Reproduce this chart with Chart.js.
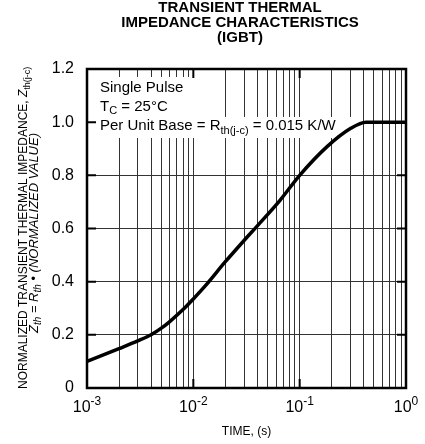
<!DOCTYPE html>
<html>
<head>
<meta charset="utf-8">
<script src="https://cdn.jsdelivr.net/npm/chart.js@4/dist/chart.umd.min.js"></script>
<style>
  body { margin: 0; background: #fff; }
  #wrap { width: 425px; height: 444px; }
</style>
</head>
<body>
<div id="wrap"><canvas id="zthCanvas" width="425" height="444"></canvas></div>
<script>
////////////data////////////
var timeValues = [0.001, 0.002, 0.003, 0.004, 0.005, 0.006, 0.008, 0.01, 0.013, 0.02, 0.03, 0.04, 0.065, 0.1, 0.18, 0.3, 0.42, 0.6, 1];
var zthValues  = [0.10, 0.148, 0.177, 0.20, 0.225, 0.25, 0.295, 0.335, 0.385, 0.475, 0.555, 0.61, 0.705, 0.80, 0.907, 0.976, 1.0, 1.0, 1.0];

var decadeValues = [0.001, 0.01, 0.1, 1];
var decadeExponents = ['-3', '-2', '-1', '0'];
var minorMultipliers = [1, 2, 3, 4, 5, 6, 7, 8, 9];

var titleLines = ['TRANSIENT THERMAL', 'IMPEDANCE CHARACTERISTICS', '(IGBT)'];
var xTitle = 'TIME, (s)';

var FONT = '"Liberation Sans", Arial, Helvetica, sans-serif';

////////////helpers////////////
//draw a list of text runs one after another: {t, size, style, dy}
function drawRuns(ctx, runs, x, y, align) {
	var total = 0;
	runs.forEach(function(r) {
		ctx.font = (r.style || '') + ' ' + r.size + 'px ' + FONT;
		r.w = ctx.measureText(r.t).width;
		total += r.w;
	});
	var cx = x;
	if (align === 'center') cx = x - total / 2;
	if (align === 'right') cx = x - total;
	ctx.textAlign = 'left';
	ctx.textBaseline = 'alphabetic';
	runs.forEach(function(r) {
		ctx.font = (r.style || '') + ' ' + r.size + 'px ' + FONT;
		ctx.fillText(r.t, cx, y + (r.dy || 0));
		cx += r.w;
	});
	return total;
}

////////////plugin: note box, frame, inner ticks, axis texts////////////
var decorPlugin = {
	id: 'decor',
	beforeDatasetsDraw: function(chart) {
		var ctx = chart.ctx, a = chart.chartArea;
		ctx.save();
		//white boxes behind the note lines
		ctx.fillStyle = '#fff';
		ctx.fillRect(a.left + 1, 77, 109, 41);
		ctx.fillRect(a.left + 1, 117, 263, 21);
		ctx.fillStyle = '#000';
		drawRuns(ctx, [{t: 'Single Pulse', size: 15}], 100, 92, 'left');
		drawRuns(ctx, [{t: 'T', size: 15}, {t: 'C', size: 11, dy: 3}, {t: ' = 25°C', size: 15}], 100, 111, 'left');
		drawRuns(ctx, [{t: 'Per Unit Base = R', size: 15}, {t: 'th(j-c)', size: 11, dy: 4},
			{t: ' = 0.015 K/W', size: 15}], 100, 130, 'left');
		ctx.restore();
	},
	afterDraw: function(chart) {
		var ctx = chart.ctx, a = chart.chartArea;
		var xs = chart.scales.x, ys = chart.scales.y;
		ctx.save();
		ctx.strokeStyle = '#000';

		//inner tick marks
		ctx.lineWidth = 2;
		ys.ticks.forEach(function(t) {
			var py = ys.getPixelForValue(t.value);
			ctx.beginPath();
			ctx.moveTo(a.left, py); ctx.lineTo(a.left + 9, py);
			ctx.moveTo(a.right - 9, py); ctx.lineTo(a.right, py);
			ctx.stroke();
		});
		decadeValues.forEach(function(v) {
			var px = xs.getPixelForValue(v);
			ctx.beginPath();
			ctx.moveTo(px, a.top); ctx.lineTo(px, a.top + 9);
			ctx.moveTo(px, a.bottom - 9); ctx.lineTo(px, a.bottom);
			ctx.stroke();
		});

		//frame
		ctx.lineWidth = 2.5;
		ctx.strokeRect(a.left, a.top, a.right - a.left, a.bottom - a.top);

		ctx.fillStyle = '#000';
		//x tick labels with exponents
		decadeValues.forEach(function(v, i) {
			var px = xs.getPixelForValue(v);
			drawRuns(ctx, [{t: '10', size: 16}, {t: decadeExponents[i], size: 12, dy: -7}], px, 412, 'center');
		});
		//x title
		drawRuns(ctx, [{t: xTitle, size: 12}], (a.left + a.right) / 2, 435, 'center');

		//chart title
		titleLines.forEach(function(line, i) {
			drawRuns(ctx, [{t: line, size: 15, style: 'bold'}], 240, 12 + i * 15, 'center');
		});

		//y title, two rotated lines
		ctx.save();
		ctx.translate(27, 389);
		ctx.rotate(-Math.PI / 2);
		drawRuns(ctx, [{t: 'NORMALIZED TRANSIENT THERMAL IMPEDANCE, ', size: 12},
			{t: 'Z', size: 12, style: 'italic'}, {t: 'th(j-c)', size: 9, dy: 3}], 0, 0, 'left');
		ctx.restore();
		ctx.save();
		ctx.translate(38, 233);
		ctx.rotate(-Math.PI / 2);
		drawRuns(ctx, [{t: 'Z', size: 13, style: 'italic'}, {t: 'th', size: 10, style: 'italic', dy: 3},
			{t: ' = ', size: 13}, {t: 'R', size: 13, style: 'italic'}, {t: 'th', size: 10, style: 'italic', dy: 3},
			{t: ' \u2022 ', size: 13}, {t: '(NORMALIZED VALUE)', size: 13, style: 'italic'}], 0, 0, 'center');
		ctx.restore();

		ctx.restore();
	}
};

////////////create chart////////////
var points = timeValues.map(function(t, i) { return {x: t, y: zthValues[i]}; });

var myChart = new Chart(document.getElementById('zthCanvas'), {
	type: 'line',
	data: {
		datasets: [{
			data: points,
			borderColor: '#000',
			borderWidth: 3.5,
			pointRadius: 0,
			fill: false,
			cubicInterpolationMode: 'monotone'
		}]
	},
	options: {
		responsive: false,
		animation: false,
		layout: { padding: { top: 69, right: 19, left: 0, bottom: 0 } },
		plugins: { legend: { display: false }, tooltip: { enabled: false }, title: { display: false } },
		scales: {
			x: {
				type: 'logarithmic',
				min: 0.001,
				max: 1,
				border: { display: false },
				ticks: { display: false },
				grid: { color: '#333', lineWidth: 1, drawTicks: false },
				afterBuildTicks: function(scale) {
					var ticks = [];
					decadeValues.forEach(function(d) {
						minorMultipliers.forEach(function(m) {
							if (d * m <= 1) ticks.push({value: d * m});
						});
					});
					scale.ticks = ticks;
				},
				afterFit: function(scale) { scale.height = 56; }
			},
			y: {
				min: 0,
				max: 1.2,
				border: { display: false },
				ticks: {
					stepSize: 0.2,
					padding: 13,
					color: '#000',
					font: { family: FONT, size: 16 },
					callback: function(v) { return v === 0 ? '0' : v.toFixed(1); }
				},
				grid: {
					drawTicks: false,
					lineWidth: 1,
					color: function(c) {
						var v = c.tick ? c.tick.value : 0;
						return (v > 0.01 && v < 0.9) ? '#333' : 'rgba(0,0,0,0)';
					}
				},
				afterFit: function(scale) { scale.width = 87; }
			}
		}
	},
	plugins: [decorPlugin]
}); //end new Chart
</script>
</body>
</html>
